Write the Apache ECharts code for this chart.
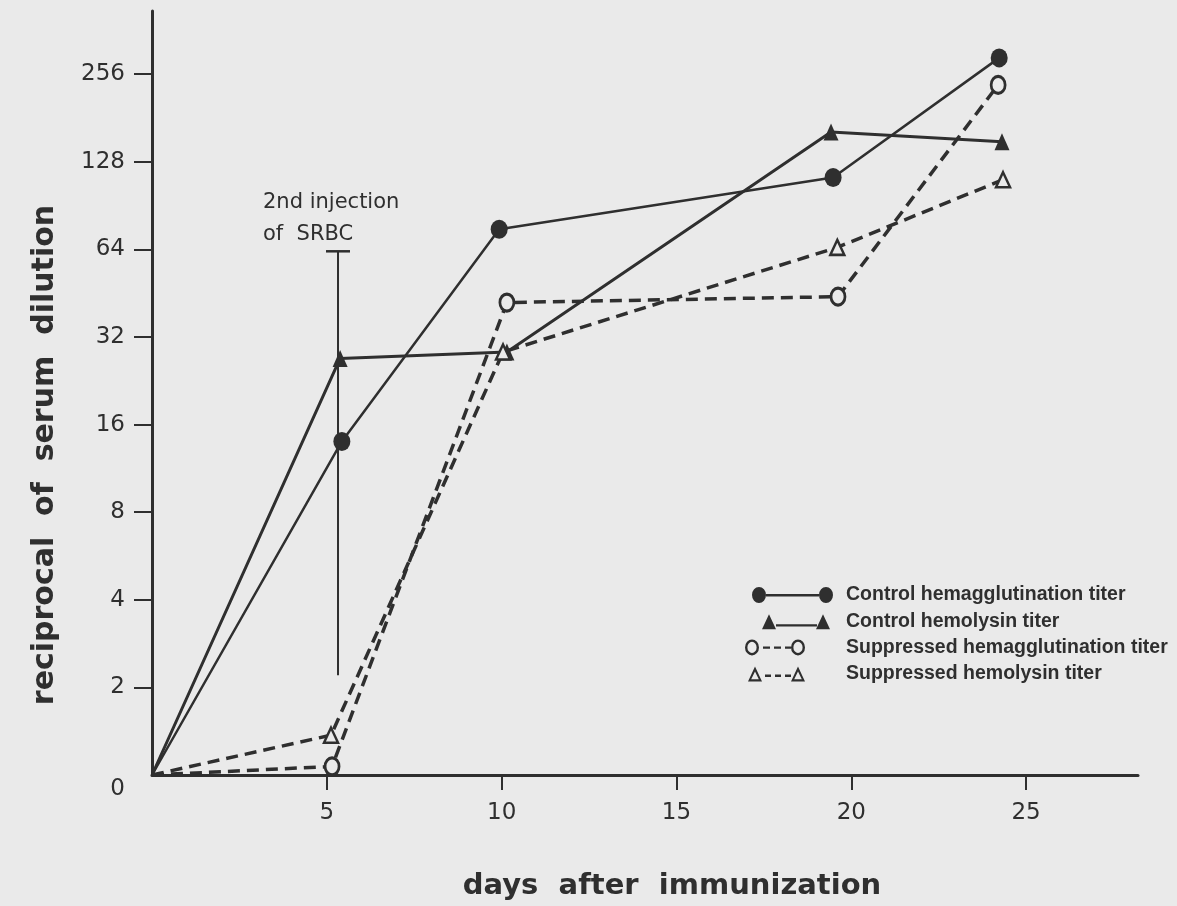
<!DOCTYPE html>
<html>
<head>
<meta charset="utf-8">
<script src="https://cdn.jsdelivr.net/npm/echarts@6/dist/echarts.min.js"></script>
<style>
  html, body { margin: 0; padding: 0; background: #eaeaea; }
  #chart { width: 1177px; height: 906px; }
</style>
</head>
<body>
<div id="chart"></div>
<script>
  // days after immunization (points sit a bit off the round days)
  const controlHaDays = [0, 5.43, 9.93, 19.48, 24.23];
  const controlHaTiter = [0, 14, 75, 113, 291];
  const controlHlDays = [0, 5.38, 10.15, 19.42, 24.31];
  const controlHlTiter = [0, 27, 28.4, 162, 150];
  const suppHaDays = [0, 5.15, 10.15, 19.62, 24.2];
  const suppHaTiter = [0, 1.07, 42, 44, 235];
  const suppHlDays = [0, 5.12, 10.04, 19.6, 24.34];
  const suppHlTiter = [0, 1.37, 28.4, 65, 111];

  // 2nd injection marker
  const injectionDay = 5.32;
  const injectionSpan = [2.2, 63];

  const xTicks = [5, 10, 15, 20, 25];
  const yTickTiters = [0, 2, 4, 8, 16, 32, 64, 128, 256];

  const seriesNames = [
    'Control hemagglutination titer',
    'Control hemolysin titer',
    'Suppressed hemagglutination titer',
    'Suppressed hemolysin titer'
  ];

  const ink = '#2f2f2f';
  const paper = '#eaeaea';
  const font = 'DejaVu Sans';

  // titer -> position on the log2 axis, 0 sits on the bottom line
  const yPos = t => t > 0 ? Math.log2(t) : 0;

  function toData(days, titers){
    return days.map((d, i) => {
      const item = {value: [d, yPos(titers[i])]};
      if(i === 0){
        item.symbol = 'none';
      }
      return item;
    });
  }

  // legend icons, all in an 88 x 16 box (the two moves pin the box)
  const box = 'M0,0 M88,16 ';
  const dot = x => `M${x - 7},8a7,8 0 1,0 14,0a7,8 0 1,0 -14,0Z `;
  const ring = x => dot(x) + `M${x - 4.6},8a4.6,5.6 0 1,1 9.2,0a4.6,5.6 0 1,1 -9.2,0Z `;
  const tri = x => `M${x - 7},16L${x},1L${x + 7},16Z `;
  const openTri = x => tri(x) + `M${x - 3.8},13.6L${x + 3.8},13.6L${x},6Z `;
  const bar = (x, w, y) => `M${x},${y}h${w}v2.4h${-w}Z `;
  const icons = [
    'path://' + box + dot(14) + bar(21, 53, 7) + dot(81),
    'path://' + box + tri(24) + bar(31, 41, 11) + tri(78),
    'path://' + box + ring(7) + bar(18, 7, 7) + bar(29, 7, 7) + bar(40, 6, 7) + ring(53),
    'path://' + box + openTri(10) + bar(20, 6, 9) + bar(30, 6, 9) + bar(40, 6, 9) + openTri(53)
  ];

  const chart = echarts.init(document.getElementById('chart'));

  chart.setOption({
    backgroundColor: paper,
    animation: false,
    textStyle: {fontFamily: font, color: ink},
    grid: {
      left: 152,
      right: 39,
      top: 11,
      bottom: 131,
      containLabel: false,
      outerBoundsMode: 'none'
    },
    legend: {
      show: true,
      orient: 'vertical',
      left: 745,
      top: 585,
      padding: 0,
      itemWidth: 88,
      itemHeight: 16,
      itemGap: 6.2,
      selectedMode: false,
      data: seriesNames.map((n, i) => ({
        name: n,
        icon: icons[i],
        itemStyle: {color: ink, borderWidth: 0}
      })),
      textStyle: {
        fontFamily: 'Liberation Sans',
        fontWeight: 'bold',
        fontSize: 19.5,
        color: ink,
        padding: [0, 0, 0, 8]
      }
    },
    xAxis: {
      type: 'value',
      min: 0,
      max: 28.2,
      interval: 5,
      name: 'days  after  immunization',
      nameLocation: 'middle',
      nameGap: 97,
      nameTextStyle: {
        fontFamily: font,
        fontWeight: 'bold',
        fontSize: 29,
        color: ink,
        padding: [0, 0, 0, 54]
      },
      splitLine: {show: false},
      axisLine: {lineStyle: {color: ink, width: 3}},
      axisTick: {
        customValues: xTicks,
        inside: false,
        length: 15,
        lineStyle: {color: ink, width: 2}
      },
      axisLabel: {
        customValues: xTicks,
        margin: 27,
        fontSize: 23,
        color: ink
      }
    },
    yAxis: {
      type: 'value',
      min: 0,
      max: 8.72,
      name: 'reciprocal  of  serum  dilution',
      nameLocation: 'middle',
      nameGap: 92,
      nameTextStyle: {
        fontFamily: font,
        fontWeight: 'bold',
        fontSize: 30,
        color: ink,
        padding: [0, 124, 0, 0]
      },
      splitLine: {show: false},
      axisLine: {lineStyle: {color: ink, width: 3}},
      axisTick: {
        customValues: yTickTiters.slice(1).map(yPos),
        length: 18,
        lineStyle: {color: ink, width: 2}
      },
      axisLabel: {
        customValues: yTickTiters.map(yPos),
        margin: 27,
        fontSize: 23,
        color: ink,
        formatter: v => v === 0 ? '{z|0}' : String(Math.round(Math.pow(2, v))),
        rich: {
          z: {fontSize: 23, color: ink, padding: [28, 0, 0, 0]}
        }
      }
    },
    series: [
      {
        name: 'injection',
        type: 'line',
        z: 1,
        lineStyle: {color: ink, width: 2},
        itemStyle: {color: ink},
        data: [
          {value: [injectionDay, yPos(injectionSpan[0])], symbol: 'none'},
          {
            value: [injectionDay, yPos(injectionSpan[1])],
            symbol: 'rect',
            symbolSize: [24, 2.5],
            label: {
              show: true,
              position: 'top',
              distance: 0,
              align: 'left',
              offset: [-75, 0],
              formatter: '2nd injection\nof  SRBC',
              fontFamily: font,
              fontSize: 21,
              lineHeight: 32,
              color: ink
            }
          }
        ]
      },
      {
        name: seriesNames[0],
        type: 'line',
        z: 3,
        symbol: 'circle',
        symbolSize: [17, 19],
        lineStyle: {color: ink, width: 2.5},
        itemStyle: {color: ink},
        data: toData(controlHaDays, controlHaTiter)
      },
      {
        name: seriesNames[1],
        type: 'line',
        z: 3,
        symbol: 'triangle',
        symbolSize: [15, 17],
        lineStyle: {color: ink, width: 3},
        itemStyle: {color: ink},
        data: toData(controlHlDays, controlHlTiter)
      },
      {
        name: seriesNames[2],
        type: 'line',
        z: 4,
        symbol: 'circle',
        symbolSize: [14, 17],
        lineStyle: {color: ink, width: 3.5, type: [12, 7]},
        itemStyle: {color: paper, borderColor: ink, borderWidth: 3},
        data: toData(suppHaDays, suppHaTiter)
      },
      {
        name: seriesNames[3],
        type: 'line',
        z: 4,
        symbol: 'triangle',
        symbolSize: [14, 15],
        lineStyle: {color: ink, width: 3.5, type: [12, 7]},
        itemStyle: {color: paper, borderColor: ink, borderWidth: 2.5},
        data: toData(suppHlDays, suppHlTiter)
      }
    ]
  });
</script>
</body>
</html>
